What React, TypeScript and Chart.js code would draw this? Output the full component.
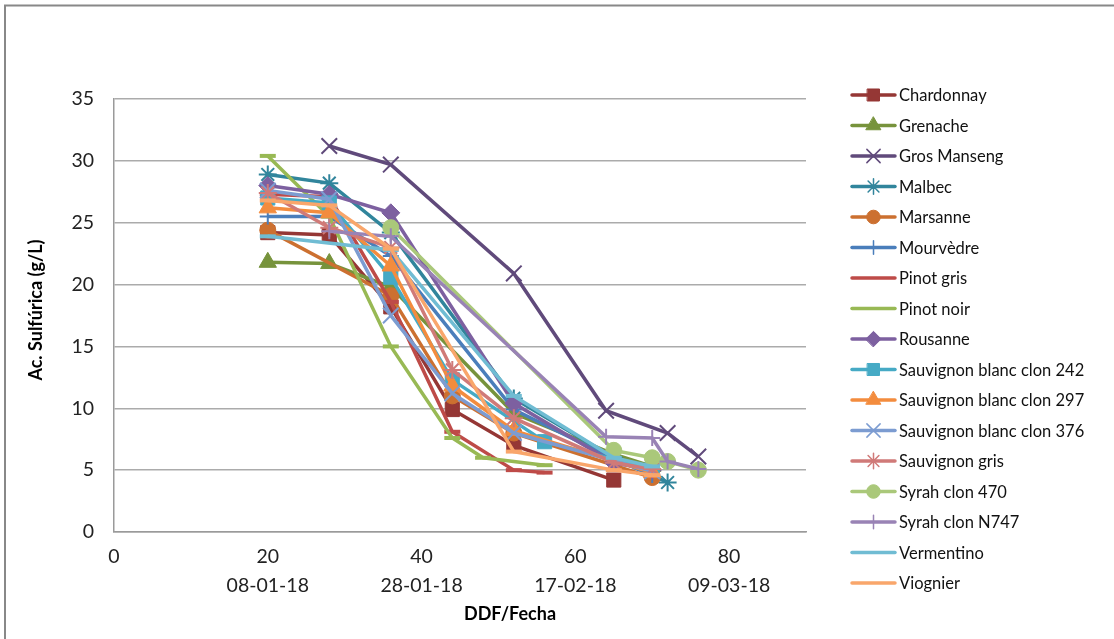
import React, { useEffect, useRef } from 'react';
import { Chart, registerables } from 'chart.js';
import { drawPoint } from 'chart.js/helpers';

Chart.register(...registerables);

// ---- data (DDF, g/L) ----
const chardonnay: [number, number][] = [[20, 24.2], [28, 24.0], [36, 18.2], [44, 9.9], [52, 7.0], [65, 4.2]];
const grenache: [number, number][] = [[20, 21.8], [28, 21.7], [36, 19.8], [52, 9.6], [65, 6.3], [70, 5.3]];
const grosManseng: [number, number][] = [[28, 31.2], [36, 29.7], [52, 20.9], [64, 9.8], [72, 8.0], [76, 6.1]];
const malbec: [number, number][] = [[20, 28.9], [28, 28.2], [36, 24.2], [52, 10.8], [65, 6.0], [72, 4.0]];
const marsanne: [number, number][] = [[20, 24.4], [36, 19.1], [44, 11.0], [52, 8.0], [70, 4.4]];
const mourvedre: [number, number][] = [[20, 25.5], [28, 25.5], [36, 22.3], [52, 9.9], [65, 5.9], [70, 4.6]];
const pinotGris: [number, number][] = [[20, 27.3], [28, 27.1], [36, 18.6], [44, 8.1], [52, 5.0], [56, 4.8]];
const pinotNoir: [number, number][] = [[20, 30.4], [28, 25.5], [36, 15.0], [44, 7.6], [48, 6.0], [56, 5.4]];
const rousanne: [number, number][] = [[20, 28.0], [28, 27.3], [36, 25.8], [52, 10.4], [65, 5.6], [70, 5.0]];
const sb242: [number, number][] = [[20, 27.0], [28, 26.6], [36, 20.6], [44, 12.3], [56, 7.3], [70, 5.1]];
const sb297: [number, number][] = [[20, 26.2], [28, 25.8], [36, 21.5], [44, 11.8], [52, 8.2], [70, 4.8]];
const sb376: [number, number][] = [[20, 27.6], [28, 26.9], [36, 17.5], [44, 11.2], [52, 8.0], [70, 4.9]];
const sauvGris: [number, number][] = [[20, 27.4], [28, 24.6], [36, 23.0], [44, 13.1], [52, 9.2], [65, 5.6], [70, 5.1]];
const syrah470: [number, number][] = [[36, 24.6], [65, 6.6], [70, 6.0], [72, 5.7], [76, 5.0]];
const syrahN747: [number, number][] = [[28, 24.3], [36, 23.9], [64, 7.7], [70, 7.6], [72, 5.7], [76, 5.1]];
const vermentino: [number, number][] = [[20, 23.9], [36, 22.8], [52, 11.0], [65, 6.0], [70, 5.3]];
const viognier: [number, number][] = [[20, 26.8], [28, 26.4], [36, 22.9], [52, 6.5], [65, 5.0], [70, 4.6]];

const seriesNames = [
  'Chardonnay', 'Grenache', 'Gros Manseng', 'Malbec', 'Marsanne', 'Mourvèdre', 'Pinot gris', 'Pinot noir',
  'Rousanne', 'Sauvignon blanc clon 242', 'Sauvignon blanc clon 297', 'Sauvignon blanc clon 376',
  'Sauvignon gris', 'Syrah clon 470', 'Syrah clon N747', 'Vermentino', 'Viognier',
];
const seriesData = [
  chardonnay, grenache, grosManseng, malbec, marsanne, mourvedre, pinotGris, pinotNoir,
  rousanne, sb242, sb297, sb376, sauvGris, syrah470, syrahN747, vermentino, viognier,
];

const xTickValues = [0, 20, 40, 60, 80];
const xDateLabels = ['', '08-01-18', '28-01-18', '17-02-18', '09-03-18'];

// ---- styles ----
const colors = [
  '#953735', '#77933C', '#604A7B', '#31859C', '#CC7030', '#4A7EBB', '#BE4B48', '#98B954',
  '#7D60A0', '#46AAC5', '#F38C3E', '#7C9CD1', '#D07A78', '#AAC87A', '#9983B5', '#70BCD3', '#F9A66B',
];
const markers = [
  'rect', 'triangle', 'crossRot', 'star', 'circle', 'cross', 'line', 'line',
  'rectRot', 'rect', 'triangle', 'crossRot', 'star', 'circle', 'cross', 'line', 'line',
];
const radii: Record<string, number> = { rect: 10, triangle: 10, crossRot: 11, star: 9, circle: 8, cross: 8, line: 8, rectRot: 9 };
const isStroke = (s: string) => s === 'crossRot' || s === 'star' || s === 'cross' || s === 'line';

const FONT = 'Lato, "Open Sans", sans-serif';

export default function App() {
  const ref = useRef<HTMLCanvasElement | null>(null);

  useEffect(() => {
    document.body.style.margin = '0';
    const canvas = ref.current!;
    const overlay = {
      id: 'overlay',
      beforeDraw(chart: any) {
        const ctx = chart.ctx;
        ctx.save();
        ctx.fillStyle = '#ffffff';
        ctx.fillRect(0, 0, chart.width, chart.height);
        ctx.strokeStyle = '#888888';
        ctx.lineWidth = 2;
        ctx.strokeRect(5, 5.5, 1300, 900);
        ctx.restore();
      },
      afterDraw(chart: any) {
        const ctx = chart.ctx;
        ctx.save();
        // axis titles
        ctx.fillStyle = '#000';
        ctx.font = `bold 18px ${FONT}`;
        ctx.textAlign = 'center';
        ctx.textBaseline = 'middle';
        ctx.fillText('DDF/Fecha', 510, 614);
        ctx.save();
        ctx.translate(36, 310);
        ctx.rotate(-Math.PI / 2);
        ctx.fillText('Ac. Sulfúrica (g/L)', 0, 0);
        ctx.restore();
        // legend
        ctx.font = `16.5px ${FONT}`;
        ctx.textAlign = 'left';
        seriesNames.forEach((name, i) => {
          const y = 95 + i * 30.5;
          const c = colors[i];
          ctx.strokeStyle = c;
          ctx.lineWidth = 3.5;
          ctx.lineCap = 'round';
          ctx.beginPath();
          ctx.moveTo(852, y);
          ctx.lineTo(895, y);
          ctx.stroke();
          const m = markers[i];
          if (m !== 'line') {
            ctx.fillStyle = c;
            ctx.strokeStyle = c;
            ctx.lineWidth = isStroke(m) ? 1.5 : 1;
            drawPoint(ctx, { pointStyle: m as any, radius: radii[m] * 0.85, rotation: 0, borderWidth: ctx.lineWidth }, 873.5, y);
          }
          ctx.fillStyle = '#111';
          ctx.fillText(name, 899, y + 1);
        });
        ctx.restore();
      },
    };

    const datasets = seriesData.map((d, i) => {
      const m = markers[i];
      return {
        label: seriesNames[i],
        data: d.map(([x, y]) => ({ x, y })),
        borderColor: colors[i],
        backgroundColor: colors[i],
        borderWidth: 3.5,
        tension: 0,
        pointStyle: m,
        pointRadius: radii[m],
        pointBackgroundColor: colors[i],
        pointBorderColor: colors[i],
        pointBorderWidth: m === 'line' ? 4 : isStroke(m) ? 2 : 1,
        order: -i,
      };
    });

    const chart = new Chart(canvas, {
      type: 'line',
      data: { datasets: datasets as any },
      plugins: [overlay],
      options: {
        animation: false,
        responsive: false,
        devicePixelRatio: 1,
        layout: { padding: { left: 0, top: 99, right: 308, bottom: 0 } },
        plugins: { legend: { display: false }, tooltip: { enabled: false } },
        scales: {
          x: {
            type: 'linear',
            min: 0,
            max: 90,
            afterBuildTicks: (s: any) => {
              s.ticks = xTickValues.map((value) => ({ value }));
            },
            afterFit: (s: any) => {
              s.height = 107;
            },
            grid: { display: false, drawTicks: false },
            border: { display: true, color: '#9a9a9a', width: 1.5 },
            ticks: {
              padding: 10,
              color: '#222',
              font: { family: FONT, size: 19.5, lineHeight: 29 / 19.5 },
              maxRotation: 0,
              autoSkip: false,
              callback: (v: any) => {
                const idx = xTickValues.indexOf(Number(v));
                if (idx <= 0) return String(v);
                return [String(v), xDateLabels[idx]];
              },
            },
          },
          y: {
            min: 0,
            max: 35,
            afterFit: (s: any) => {
              s.width = 114;
            },
            grid: { color: '#ababab', lineWidth: 1.5, drawTicks: false },
            border: { display: true, color: '#9a9a9a', width: 1.5 },
            ticks: {
              stepSize: 5,
              padding: 20,
              color: '#222',
              font: { family: FONT, size: 19.5 },
            },
          },
        },
      },
    });
    return () => chart.destroy();
  }, []);

  return <canvas ref={ref} width={1114} height={639} style={{ display: 'block', width: 1114, height: 639 }} />;
}
